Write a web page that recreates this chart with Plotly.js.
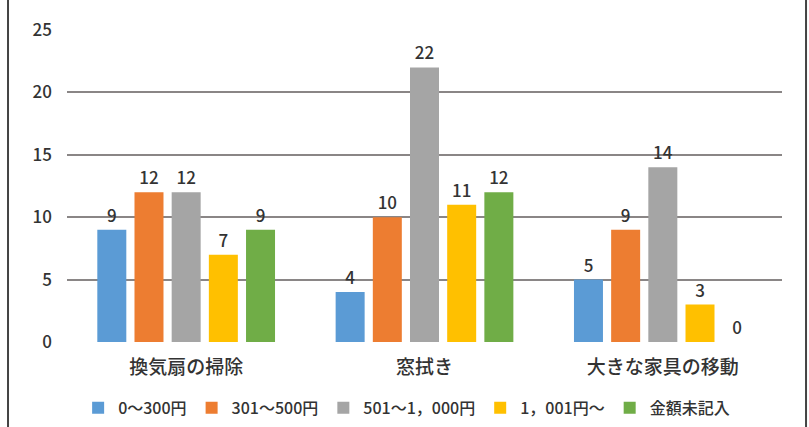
<!DOCTYPE html>
<html><head><meta charset="utf-8">
<script src="https://cdn.plot.ly/plotly-3.0.1.min.js"></script>
<style>html,body{margin:0;padding:0;background:#fff;}#chart{width:809px;height:427px;}</style>
</head><body><div id="chart"></div>
<script>
const categories = ["換気扇の掃除", "窓拭き", "大きな家具の移動"];
const seriesNames = ["0～300円", "301～500円", "501～1，000円", "1，001円～", "金額未記入"];
const series0 = [9, 4, 5];
const series1 = [12, 10, 9];
const series2 = [12, 22, 14];
const series3 = [7, 11, 3];
const series4 = [9, 12, 0];
const yTicks = [0, 5, 10, 15, 20, 25];
const colors = ["#5b9bd5", "#ed7d31", "#a5a5a5", "#ffc000", "#70ad47"];
const allSeries = [series0, series1, series2, series3, series4];
const font = "'Noto Sans CJK JP', 'Noto Sans', sans-serif";
const traces = allSeries.map((vals, i) => ({
  type: "bar", name: seriesNames[i], x: categories, y: vals,
  marker: {color: colors[i]},
  text: vals.map(String), textposition: "outside", cliponaxis: false,
  textfont: {family: font, size: 17, color: "#333", weight: 500}
}));
const layout = {
  width: 809, height: 427,
  margin: {l: 67, r: 27, t: 30, b: 85, autoexpand: false},
  paper_bgcolor: "#fff", plot_bgcolor: "#fff",
  barmode: "group", bargap: 0.22, bargroupgap: 0.22,
  font: {family: font, color: "#333"},
  xaxis: {showgrid: false, zeroline: false, showline: false, ticks: "",
          ticklabelstandoff: 12,
          tickfont: {size: 19, color: "#333", weight: 500}, fixedrange: true},
  yaxis: {range: [0, 25], tickvals: yTicks, ticktext: yTicks.map(String),
          showgrid: true, gridcolor: "#8a8686", gridwidth: 2, zeroline: false,
          showline: false, ticks: "", ticklabelstandoff: 14,
          tickfont: {size: 17, color: "#333", weight: 500}, fixedrange: true},
  showlegend: true,
  legend: {orientation: "h", x: 0.475, xanchor: "center", yref: "container", y: 0.045, yanchor: "middle",
           font: {size: 16, color: "#333", weight: 500}, itemwidth: 30, traceorder: "normal"},
  shapes: [
    {type: "line", xref: "paper", yref: "paper", x0: -0.0825, x1: -0.0825, y0: -0.28, y1: 1.1, line: {color: "#444", width: 2}},
    {type: "line", xref: "paper", yref: "paper", x0: 1.0336, x1: 1.0336, y0: -0.28, y1: 1.1, line: {color: "#444", width: 2}}
  ]
};
Plotly.newPlot("chart", traces, layout, {displayModeBar: false, staticPlot: true});
</script></body></html>
